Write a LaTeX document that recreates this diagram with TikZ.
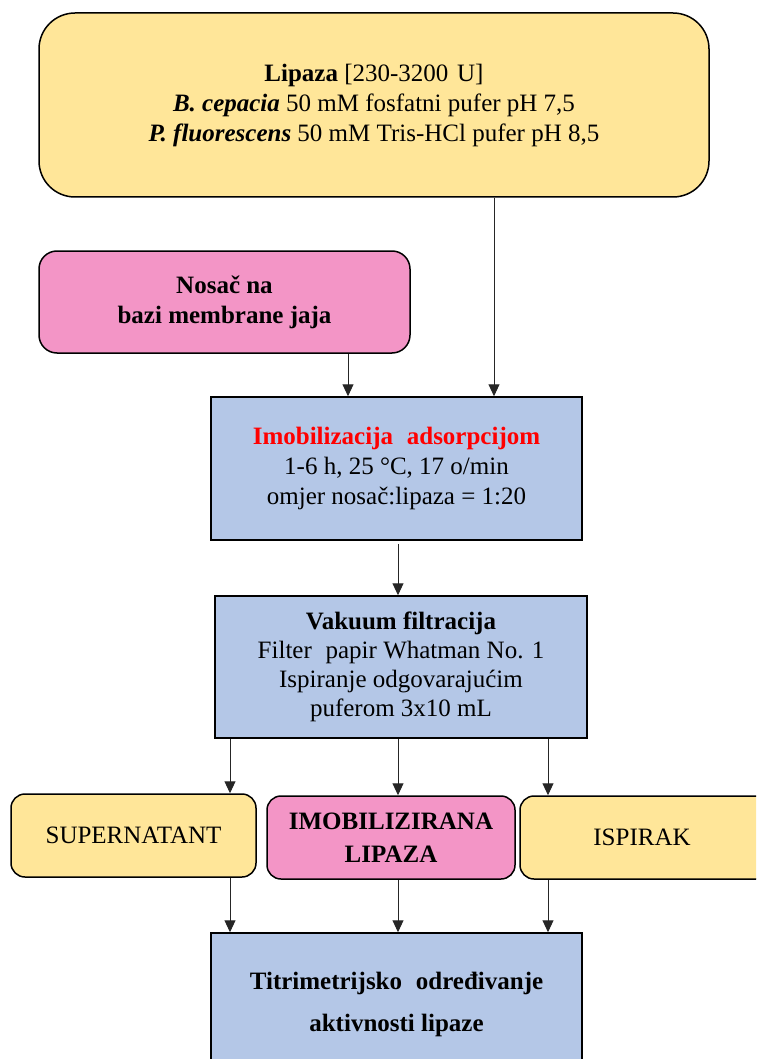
\documentclass[tikz,border=0pt]{standalone}
\usepackage{fontspec}
\setmainfont{Liberation Serif}[
  UprightFont={Liberation Serif},
  BoldFont={Liberation Serif Bold},
  ItalicFont={Liberation Serif Italic},
  BoldItalicFont={Liberation Serif Bold Italic}]
\usetikzlibrary{arrows.meta}
\definecolor{ygold}{HTML}{FFE699}
\definecolor{pinkc}{HTML}{F395C6}
\definecolor{bluec}{HTML}{B4C7E7}
\tikzset{
  base/.style={draw=black, line width=1.5pt, align=center, inner sep=0pt,
    font=\fontsize{25}{30}\selectfont},
  yellowbox/.style={base, fill=ygold},
  pinkbox/.style={base, fill=pinkc},
  bluebox/.style={base, fill=bluec},
  arr/.style={draw=black!85, line width=1pt, -{Triangle[length=12pt,width=11pt]}}
}
\begin{document}
\begin{tikzpicture}[x=1pt,y=-1pt]
\useasboundingbox (0,0) rectangle (756,1059);
\clip (0,0) rectangle (756,1059);
% nodes
\node[yellowbox, rounded corners=36pt, minimum width=670pt, minimum height=184pt] (top) at (374,105)
  {\textbf{Lipaza} [230-3200\hspace{0.35em}U]\\
   \textbf{\textit{B. cepacia}} 50 mM fosfatni pufer pH 7,5\\
   \textbf{\textit{P. fluorescens}} 50 mM Tris-HCl pufer pH 8,5};
\node[pinkbox, rounded corners=18pt, minimum width=371pt, minimum height=102pt] (nos) at (224.5,302)
  {\textbf{Nosač na}\\ \textbf{bazi membrane jaja}};
\node[bluebox, minimum width=371pt, minimum height=143pt] (imob) at (396.5,468.5)
  {\textcolor{red}{\textbf{Imobilizacija\hspace{0.3em} adsorpcijom}}\\
   1-6 h, 25 °C, 17 o/min\\ omjer nosač:lipaza = 1:20};
\node[bluebox, minimum width=372pt, minimum height=142pt, font=\fontsize{25}{29}\selectfont] (vak) at (401,667)
  {\textbf{Vakuum filtracija}\\ Filter\hspace{0.3em} papir Whatman No. 1\\
   Ispiranje odgovarajućim\\ puferom 3x10 mL};
\node[yellowbox, rounded corners=14pt, minimum width=245pt, minimum height=83pt] (sup) at (133.5,835.5)
  {SUPERNATANT};
\node[pinkbox, rounded corners=14pt, minimum width=248pt, minimum height=83pt,
  font=\fontsize{25}{33}\selectfont] (iml) at (391,837.5)
  {\textbf{IMOBILIZIRANA}\\ \textbf{LIPAZA}};
\node[yellowbox, rounded corners=14pt, minimum width=250pt, minimum height=83pt] (isp) at (645,837.5)
  {\hspace*{-6pt}ISPIRAK};
\node[bluebox, minimum width=371pt, minimum height=143pt,
  font=\fontsize{25}{42}\selectfont] (tit) at (396.5,1004.5)
  {\textbf{Titrimetrijsko\hspace{0.3em} određivanje}\\ \textbf{aktivnosti lipaze}};
% x positions of connectors
\coordinate (xa) at (494,0);
\coordinate (xb) at (348,0);
\coordinate (xc) at (398,0);
\coordinate (xl) at (230,0);
\coordinate (xr) at (548,0);
% connectors
\draw[arr] (top.south -| xa) -- (imob.north -| xa);
\draw[arr] (nos.south -| xb) -- (imob.north -| xb);
\draw[arr] ([yshift=-3pt]imob.south -| xc) -- (vak.north -| xc);
\draw[arr] (vak.south -| xl) -- (sup.north -| xl);
\draw[arr] (vak.south -| xc) -- (iml.north -| xc);
\draw[arr] (vak.south -| xr) -- (isp.north -| xr);
\draw[arr] (sup.south -| xl) -- (tit.north -| xl);
\draw[arr] (iml.south -| xc) -- (tit.north -| xc);
\draw[arr] (isp.south -| xr) -- (tit.north -| xr);
\end{tikzpicture}
\end{document}
